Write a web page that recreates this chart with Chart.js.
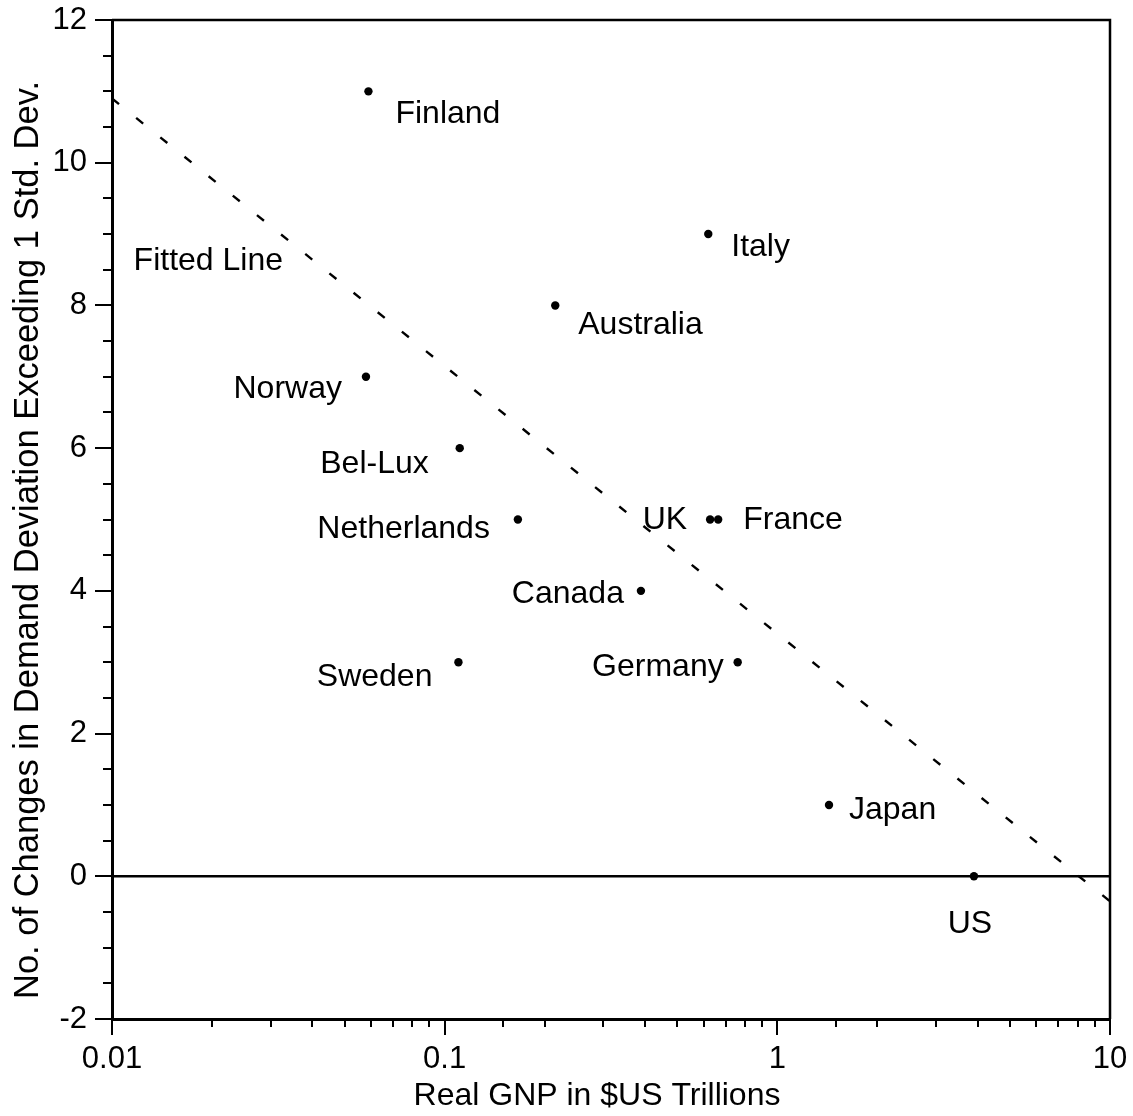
<!DOCTYPE html>
<html>
<head>
<meta charset="utf-8">
<title>Demand deviations vs. real GNP</title>
<script src="https://cdn.jsdelivr.net/npm/chart.js@4/dist/chart.umd.min.js"></script>
<style>
  html, body { margin: 0; padding: 0; background: #fff; }
  #wrap { width: 1133px; height: 1116px; }
</style>
</head>
<body>
<div id="wrap"><canvas id="c" width="1133" height="1116"></canvas></div>
<script>
// Countries, real GNP ($US trillions) and number of demand changes > 1 std. dev.
const countries = ['Finland', 'Italy', 'Australia', 'Norway', 'Bel-Lux', 'Netherlands',
                   'UK', 'France', 'Canada', 'Sweden', 'Germany', 'Japan', 'US'];
const gnp       = [0.059, 0.62, 0.215, 0.058, 0.111, 0.166,
                   0.628, 0.664, 0.389, 0.11, 0.76, 1.43, 3.9];
const changes   = [11, 9, 8, 7, 6, 5, 5, 5, 4, 3, 3, 1, 0];

// Fitted regression line (straight on the log axis), end points
const fitX = [0.01, 10];
const fitY = [10.9, -0.35];
const fitLabel = 'Fitted Line';

// Axis ranges, labelled ticks and titles
const xMin = 0.01, xMax = 10;
const yMin = -2, yMax = 12;
const xTickLabels = ['0.01', '0.1', '1', '10'];
const xTitle = 'Real GNP in $US Trillions';
const yTitle = 'No. of Changes in Demand Deviation Exceeding 1 Std. Dev.';

// Label placement beside each dot: [dx, dy, align]
const labelPlacement = {
  'Finland':     [27, 23, 'left'],
  'Italy':       [23, 13, 'left'],
  'Australia':   [23, 20, 'left'],
  'Norway':      [-24, 12, 'right'],
  'Bel-Lux':     [-31, 16, 'right'],
  'Netherlands': [-28, 10, 'right'],
  'UK':          [-23, 1, 'right'],
  'France':      [25, 1, 'left'],
  'Canada':      [-17, 3, 'right'],
  'Sweden':      [-26, 15, 'right'],
  'Germany':     [-14, 5, 'right'],
  'Japan':       [20, 5, 'left'],
  'US':          [-4, 48, 'center']
};
const fitLabelPlacement = [171, 163, 'right'];

const FONT = "'Liberation Sans', Arial, Helvetica, sans-serif";

const points = gnp.map((g, i) => ({ x: g, y: changes[i] }));
const fitPoints = fitX.map((x, i) => ({ x: x, y: fitY[i] }));

const isDecade = v => Math.abs(Math.log10(v) - Math.round(Math.log10(v))) < 1e-6;

// Tick marks, frame, axis titles and point labels
const decorPlugin = {
  id: 'decor',
  afterDraw(chart) {
    const ctx = chart.ctx;
    const ca = chart.chartArea;
    const xs = chart.scales.x, ys = chart.scales.y;
    ctx.save();
    ctx.strokeStyle = '#000';
    ctx.lineCap = 'butt';

    // x ticks (outward, below the axis)
    ctx.lineWidth = 2;
    xs.ticks.forEach(t => {
      const px = Math.round(xs.getPixelForValue(t.value));
      const len = isDecade(t.value) ? 16 : 8;
      ctx.beginPath();
      ctx.moveTo(px, ca.bottom);
      ctx.lineTo(px, ca.bottom + len);
      ctx.stroke();
    });
    // y ticks (outward, left of the axis)
    ys.ticks.forEach(t => {
      const py = Math.round(ys.getPixelForValue(t.value));
      const len = (Math.abs(t.value % 2) < 1e-9) ? 17 : 9;
      ctx.beginPath();
      ctx.moveTo(ca.left, py);
      ctx.lineTo(ca.left - len, py);
      ctx.stroke();
    });

    // top and right frame
    ctx.lineWidth = 2.5;
    ctx.beginPath();
    ctx.moveTo(ca.left, ca.top);
    ctx.lineTo(ca.right, ca.top);
    ctx.lineTo(ca.right, ca.bottom);
    ctx.stroke();

    ctx.fillStyle = '#000';

    // axis titles
    ctx.textBaseline = 'alphabetic';
    ctx.textAlign = 'center';
    ctx.font = '32px ' + FONT;
    ctx.fillText(xTitle, 597, 1105);
    ctx.save();
    ctx.translate(38, 540);
    ctx.rotate(-Math.PI / 2);
    ctx.font = '34.5px ' + FONT;
    ctx.fillText(yTitle, 0, 0);
    ctx.restore();

    // country labels
    ctx.font = '32px ' + FONT;
    ctx.textBaseline = 'middle';
    const meta = chart.getDatasetMeta(0);
    meta.data.forEach((el, i) => {
      const name = countries[i];
      const [dx, dy, align] = labelPlacement[name];
      ctx.textAlign = align;
      ctx.fillText(name, el.x + dx, el.y + dy);
    });

    // fitted line label
    const f0 = chart.getDatasetMeta(1).data[0];
    ctx.textAlign = fitLabelPlacement[2];
    ctx.fillText(fitLabel, f0.x + fitLabelPlacement[0], f0.y + fitLabelPlacement[1]);
    ctx.restore();
  }
};

new Chart(document.getElementById('c'), {
  type: 'scatter',
  data: {
    datasets: [
      {
        label: 'Countries',
        data: points,
        backgroundColor: '#000',
        borderColor: '#000',
        pointRadius: 4.2,
        pointHoverRadius: 4.2,
        borderWidth: 0
      },
      {
        label: fitLabel,
        data: fitPoints,
        showLine: true,
        borderColor: '#000',
        borderWidth: 2.4,
        borderDash: [9, 22],
        pointRadius: 0,
        fill: false
      }
    ]
  },
  options: {
    responsive: false,
    devicePixelRatio: 1,
    animation: false,
    layout: { padding: { top: 20, right: 23, left: 0, bottom: 0 } },
    plugins: { legend: { display: false }, tooltip: { enabled: false } },
    scales: {
      x: {
        type: 'logarithmic',
        min: xMin,
        max: xMax,
        afterFit: s => { s.height = 97; s.paddingLeft = 0; s.paddingRight = 0; },
        grid: { display: false, drawTicks: false },
        border: { display: true, color: '#000', width: 3 },
        ticks: {
          autoSkip: false,
          maxRotation: 0,
          minRotation: 0,
          padding: 22,
          color: '#000',
          font: { family: FONT, size: 31 },
          callback: v => {
            if (!isDecade(v)) return '';
            const lbl = xTickLabels.find(t => Math.abs(parseFloat(t) - v) < 1e-9);
            return lbl !== undefined ? lbl : '';
          }
        },
        title: { display: false }
      },
      y: {
        type: 'linear',
        min: yMin,
        max: yMax,
        afterFit: s => { s.width = 112; s.paddingTop = 0; s.paddingBottom = 0; },
        grid: {
          drawTicks: false,
          lineWidth: 2.4,
          color: c => (c.tick && c.tick.value === 0) ? '#000' : 'rgba(0,0,0,0)'
        },
        border: { display: true, color: '#000', width: 3 },
        ticks: {
          stepSize: 0.5,
          autoSkip: false,
          padding: 25,
          color: '#000',
          font: { family: FONT, size: 31 },
          callback: v => (Math.abs(v % 2) < 1e-9) ? String(v) : ''
        },
        title: { display: false }
      }
    }
  },
  plugins: [decorPlugin]
});
</script>
</body>
</html>
